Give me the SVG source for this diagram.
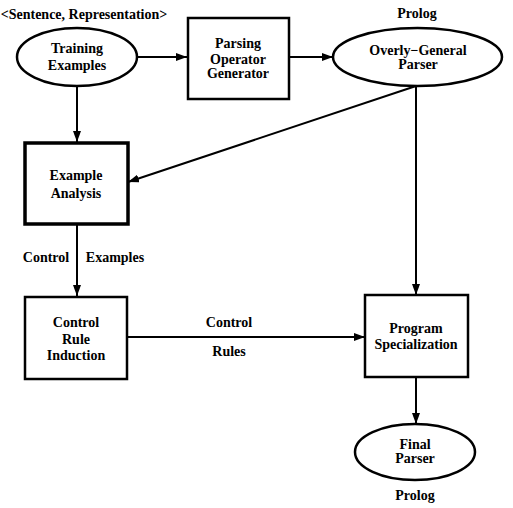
<svg xmlns="http://www.w3.org/2000/svg" width="513" height="508" viewBox="0 0 513 508">
<style>
text{font-family:"Liberation Serif","Times New Roman",serif;font-weight:bold;font-size:14px;fill:#000;text-anchor:middle}
.shape{fill:#fff;stroke:#000;stroke-width:2.5}
.thick{stroke-width:3.5}
.conn{fill:none;stroke:#000;stroke-width:2;marker-end:url(#ah)}
</style>
<defs>
<marker id="ah" markerUnits="userSpaceOnUse" markerWidth="11" markerHeight="8" refX="11" refY="4" orient="auto">
<path d="M0,0 L11,4 L0,8 z" fill="#000"/>
</marker>
</defs>
<rect width="513" height="508" fill="#fff"/>
<g id="connectors">
<line class="conn" x1="137" y1="57" x2="187" y2="57"/>
<line class="conn" x1="289" y1="57" x2="333" y2="57"/>
<line class="conn" x1="77" y1="86" x2="77" y2="142"/>
<line class="conn" x1="416" y1="86" x2="128" y2="182"/>
<line class="conn" x1="416" y1="86" x2="416" y2="295"/>
<line class="conn" x1="77" y1="225" x2="77" y2="296"/>
<line class="conn" x1="127" y1="337" x2="365" y2="337"/>
<line class="conn" x1="416" y1="378" x2="416" y2="424"/>
</g>
<g id="labels">
<text x="84" y="19">&lt;Sentence, Representation&gt;</text>
<text x="417" y="18">Prolog</text>
<text x="46" y="262">Control</text>
<text x="115" y="262">Examples</text>
<text x="229" y="327">Control</text>
<text x="229" y="356">Rules</text>
<text x="415" y="500">Prolog</text>
</g>
<g id="training-examples">
<ellipse class="shape" cx="77" cy="57" rx="60" ry="29"/>
<text x="77" y="53">Training</text>
<text x="77" y="70">Examples</text>
</g>
<g id="parsing-operator-generator">
<rect class="shape" x="188" y="18" width="101" height="81"/>
<text x="238" y="48">Parsing</text>
<text x="238" y="64">Operator</text>
<text x="238" y="78">Generator</text>
</g>
<g id="overly-general-parser">
<ellipse class="shape" cx="417.5" cy="57" rx="84.5" ry="29"/>
<text x="418" y="55">Overly−General</text>
<text x="418" y="69">Parser</text>
</g>
<g id="example-analysis">
<rect class="shape thick" x="25" y="143" width="103" height="81"/>
<text x="76" y="180">Example</text>
<text x="76" y="198">Analysis</text>
</g>
<g id="control-rule-induction">
<rect class="shape" x="25" y="297" width="102" height="82"/>
<text x="76" y="327">Control</text>
<text x="76" y="344">Rule</text>
<text x="76" y="360">Induction</text>
</g>
<g id="program-specialization">
<rect class="shape" x="365" y="295" width="103" height="82"/>
<text x="416" y="333">Program</text>
<text x="416" y="349">Specialization</text>
</g>
<g id="final-parser">
<ellipse class="shape" cx="415" cy="452" rx="60" ry="28"/>
<text x="415" y="449">Final</text>
<text x="415" y="463">Parser</text>
</g>
</svg>
